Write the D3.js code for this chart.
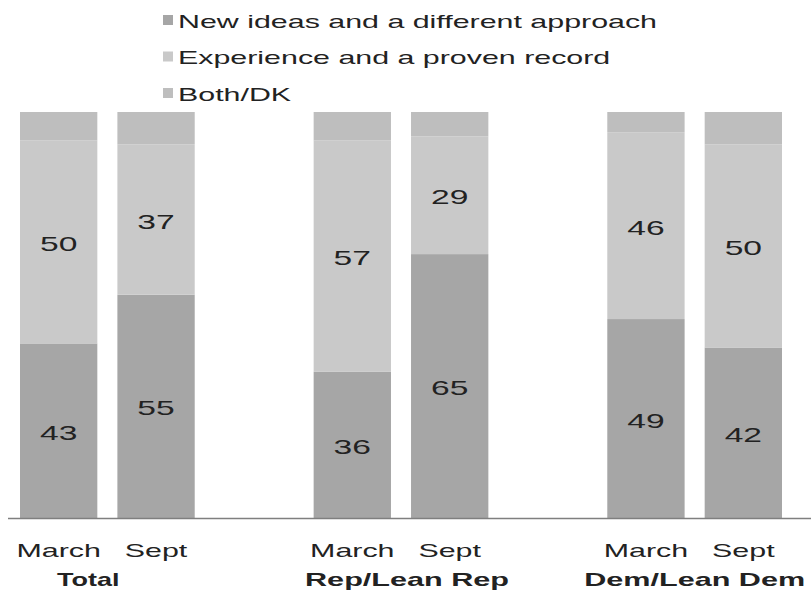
<!DOCTYPE html>
<html>
<head>
<meta charset="utf-8">
<script src="https://cdn.jsdelivr.net/npm/d3@7"></script>
<style>
  html, body { margin: 0; padding: 0; background: #fff; }
  svg { display: block; }
  text { font-family: "Liberation Sans", Arial, sans-serif; fill: #222; }
</style>
</head>
<body>
<svg id="chart" width="811" height="593"></svg>
<script>
// ---- data ----
const groups = ["Total", "Rep/Lean Rep", "Dem/Lean Dem"];
const periods = ["March", "Sept"];
const seriesNames = ["New ideas and a different approach", "Experience and a proven record", "Both/DK"];
const newIdeas   = [43, 55, 36, 65, 49, 42];
const experience = [50, 37, 57, 29, 46, 50];
const bothDK     = [7, 8, 7, 6, 5, 8];
const colors = ["#a6a6a6", "#c9c9c9", "#bebebe"];

// ---- build rows ----
const rows = [];
groups.forEach((g, gi) => periods.forEach((p, pi) => {
  const i = gi * periods.length + pi;
  rows.push({ group: g, period: p, values: [newIdeas[i], experience[i], bothDK[i]] });
}));

const svg = d3.select("#chart");
const STRETCH = 1.6;
const BOLD_STRETCH = 1.7;

const x0 = d3.scaleBand().domain(groups).range([20, 782]).paddingInner(0.405).paddingOuter(0);
const x1 = d3.scaleBand().domain(periods).range([0, x0.bandwidth()]).paddingInner(0.206).paddingOuter(0);
const y = d3.scaleLinear().domain([0, 100]).range([518, 112]);

const stack = d3.stack().keys([0, 1, 2]).value((d, k) => d.values[k]);
const layers = stack(rows);

const barX = d => x0(d.data.group) + x1(d.data.period);

svg.append("g").selectAll("g")
  .data(layers).join("g")
  .attr("fill", (l, i) => colors[i])
  .selectAll("rect")
  .data(l => l).join("rect")
  .attr("x", barX)
  .attr("width", x1.bandwidth())
  .attr("y", d => y(d[1]))
  .attr("height", d => y(d[0]) - y(d[1]));

// value labels for first two series
layers.slice(0, 2).forEach(layer => {
  svg.append("g").selectAll("text")
    .data(layer).join("text")
    .attr("text-anchor", "middle")
    .attr("dominant-baseline", "central")
    .attr("font-size", 21)
    .attr("transform", d => `translate(${barX(d) + x1.bandwidth() / 2},${(y(d[0]) + y(d[1])) / 2 + 2}) scale(${STRETCH},1)`)
    .text(d => d[1] - d[0]);
});

// baseline axis
svg.append("line")
  .attr("x1", 8).attr("x2", 811)
  .attr("y1", y(0) + 0.5).attr("y2", y(0) + 0.5)
  .attr("stroke", "#7f7f7f").attr("stroke-width", 1.6);

// period labels
svg.append("g").selectAll("text")
  .data(rows).join("text")
  .attr("text-anchor", "middle")
  .attr("font-size", 19)
  .attr("transform", d => `translate(${x0(d.group) + x1(d.period) + x1.bandwidth() / 2},557) scale(${STRETCH},1)`)
  .text(d => d.period);

// group labels
const groupOffset = { "Total": -19, "Rep/Lean Rep": 6, "Dem/Lean Dem": 0 };
svg.append("g").selectAll("text")
  .data(groups).join("text")
  .attr("text-anchor", "middle")
  .attr("font-size", 18)
  .attr("font-weight", "bold")
  .attr("fill", "#111")
  .attr("transform", g => `translate(${x0(g) + x0.bandwidth() / 2 + groupOffset[g]},586) scale(${g === "Total" ? 1.5 : BOLD_STRETCH},1)`)
  .text(g => g);

// legend
const legend = svg.append("g").selectAll("g")
  .data(seriesNames).join("g")
  .attr("transform", (d, i) => `translate(163,${20 + i * 36.5})`);
legend.append("rect")
  .attr("x", 0).attr("y", -5).attr("width", 10).attr("height", 10)
  .attr("fill", (d, i) => colors[i]);
legend.append("text")
  .attr("font-size", 19)
  .attr("dominant-baseline", "central")
  .attr("transform", `translate(15,1) scale(${STRETCH},1)`)
  .text(d => d);
</script>
</body>
</html>
